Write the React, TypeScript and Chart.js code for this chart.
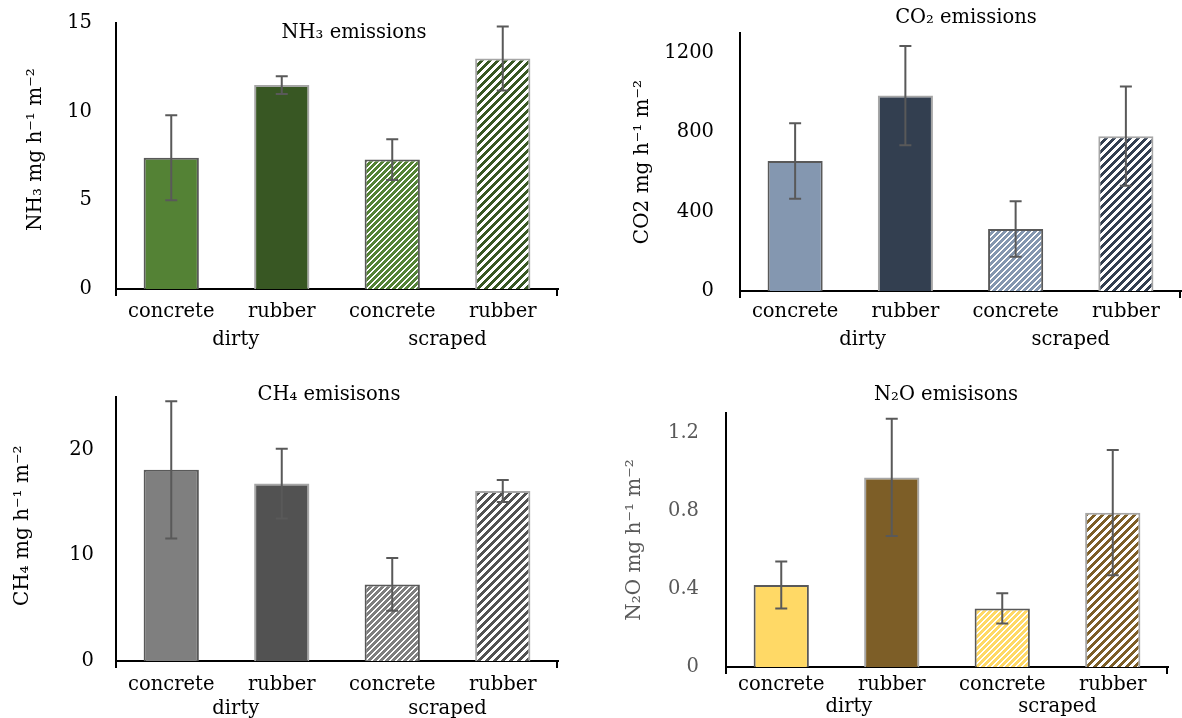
import React, { useEffect, useRef } from 'react';
import { Chart, registerables } from 'chart.js';

Chart.register(...registerables);

// ---------- data ----------
const categories = ['concrete', 'rubber', 'concrete', 'rubber'];
const groups = ['dirty', 'scraped'];

const nh3Values = [7.4, 11.5, 7.3, 13.0];
const nh3Errors = [2.4, 0.5, 1.15, 1.8];
const nh3Ticks = [0, 5, 10, 15];

const co2Values = [655, 985, 312, 780];
const co2Errors = [190, 250, 140, 250];
const co2Ticks = [0, 400, 800, 1200];

const ch4Values = [18.1, 16.8, 7.25, 16.1];
const ch4Errors = [6.5, 3.3, 2.5, 1.05];
const ch4Ticks = [0, 10, 20];

const n2oValues = [0.42, 0.97, 0.3, 0.79];
const n2oErrors = [0.12, 0.3, 0.078, 0.32];
const n2oTicks = [0, 0.4, 0.8, 1.2];

// ---------- styling / layout ----------
const FONT = "'DejaVu Serif', serif";
const NBSP = '\u00A0';

type Spec = {
  title: string;
  yTitle: string;
  values: number[];
  errors: number[];
  ticks: number[];
  max: number;
  colors: [string, string];
  tickColor: string;
  yTitleColor: string;
  box: { x: number; y: number; w: number; h: number };
  plot: { l: number; t: number; r: number; b: number };
  titlePos: { x: number; y: number };
  yTitlePad: number;
  yTitleLead: number;
  tickPad: number;
  xH: number;
  xPad: number;
  x2H: number;
  x2Pad: number;
  groupLead: number;
};

const specs: Spec[] = [
  {
    title: 'NH\u2083 emissions',
    yTitle: 'NH\u2083 mg h\u207B\u00B9 m\u207B\u00B2',
    values: nh3Values,
    errors: nh3Errors,
    ticks: nh3Ticks,
    max: 15,
    colors: ['#548235', '#385723'],
    tickColor: '#000',
    yTitleColor: '#000',
    box: { x: 0, y: 0, w: 590, h: 360 },
    plot: { l: 116, t: 23, r: 558, b: 289 },
    titlePos: { x: 354, y: 33 },
    yTitlePad: 24,
    yTitleLead: 2,
    tickPad: 24,
    xH: 33,
    xPad: 11,
    x2H: 30,
    x2Pad: 6,
    groupLead: 3,
  },
  {
    title: 'CO\u2082 emissions',
    yTitle: 'CO2 mg h\u207B\u00B9 m\u207B\u00B2',
    values: co2Values,
    errors: co2Errors,
    ticks: co2Ticks,
    max: 1300,
    colors: ['#8497B0', '#333F50'],
    tickColor: '#000',
    yTitleColor: '#000',
    box: { x: 590, y: 0, w: 592, h: 360 },
    plot: { l: 740, t: 33, r: 1181, b: 291 },
    titlePos: { x: 376, y: 18 },
    yTitlePad: 41,
    yTitleLead: 0,
    tickPad: 26,
    xH: 31,
    xPad: 9,
    x2H: 30,
    x2Pad: 6,
    groupLead: 4,
  },
  {
    title: 'CH\u2084 emisisons',
    yTitle: 'CH\u2084 mg h\u207B\u00B9 m\u207B\u00B2',
    values: ch4Values,
    errors: ch4Errors,
    ticks: ch4Ticks,
    max: 25,
    colors: ['#7F7F7F', '#525252'],
    tickColor: '#000',
    yTitleColor: '#000',
    box: { x: 0, y: 365, w: 590, h: 353 },
    plot: { l: 116, t: 397, r: 558, b: 661 },
    titlePos: { x: 329, y: 30 },
    yTitlePad: 11,
    yTitleLead: 1,
    tickPad: 22,
    xH: 30,
    xPad: 12,
    x2H: 27,
    x2Pad: 6,
    groupLead: 3,
  },
  {
    title: 'N\u2082O emisisons',
    yTitle: 'N\u2082O mg h\u207B\u00B9 m\u207B\u00B2',
    values: n2oValues,
    errors: n2oErrors,
    ticks: n2oTicks,
    max: 1.3,
    colors: ['#FFD966', '#7D5E27'],
    tickColor: '#595959',
    yTitleColor: '#595959',
    box: { x: 590, y: 365, w: 592, h: 353 },
    plot: { l: 726, t: 413, r: 1168, b: 667 },
    titlePos: { x: 356, y: 30 },
    yTitlePad: 33,
    yTitleLead: 0,
    tickPad: 27,
    xH: 24,
    xPad: 6,
    x2H: 27,
    x2Pad: 4,
    groupLead: 4,
  },
];

function makePattern(color: string, period: number, whiteBand: number): CanvasPattern | string {
  const c = document.createElement('canvas');
  c.width = period;
  c.height = period;
  const ctx = c.getContext('2d');
  if (!ctx) return color;
  ctx.fillStyle = '#ffffff';
  ctx.fillRect(0, 0, period, period);
  ctx.fillStyle = color;
  for (let y = 0; y < period; y++) {
    for (let x = 0; x < period; x++) {
      if ((x + y) % period >= whiteBand) ctx.fillRect(x, y, 1, 1);
    }
  }
  return ctx.createPattern(c, 'repeat') || color;
}

function buildConfig(spec: Spec): any {
  const { box, plot } = spec;
  const padTop = plot.t - box.y;
  const padRight = box.x + box.w - plot.r;
  const padBottom = box.y + box.h - plot.b - spec.xH - spec.x2H;

  const errorBars = {
    id: 'errorBars',
    afterDatasetsDraw(chart: any) {
      const ctx = chart.ctx;
      const meta = chart.getDatasetMeta(0);
      const ys = chart.scales.y;
      ctx.save();
      ctx.strokeStyle = '#595959';
      ctx.lineWidth = 2;
      spec.values.forEach((v, i) => {
        const bar = meta.data[i];
        if (!bar) return;
        const x = bar.x;
        const yTop = ys.getPixelForValue(v + spec.errors[i]);
        const yBot = ys.getPixelForValue(v - spec.errors[i]);
        ctx.beginPath();
        ctx.moveTo(x, yTop);
        ctx.lineTo(x, yBot);
        ctx.moveTo(x - 6, yTop);
        ctx.lineTo(x + 6, yTop);
        ctx.moveTo(x - 6, yBot);
        ctx.lineTo(x + 6, yBot);
        ctx.stroke();
      });
      ctx.restore();
    },
  };

  const decorations = {
    id: 'decorations',
    afterDraw(chart: any) {
      const ctx = chart.ctx;
      const a = chart.chartArea;
      ctx.save();
      ctx.strokeStyle = '#000';
      ctx.lineWidth = 2;
      ctx.beginPath();
      ctx.moveTo(a.left, a.bottom);
      ctx.lineTo(a.left, a.bottom + 7);
      ctx.moveTo(a.right - 1, a.bottom);
      ctx.lineTo(a.right - 1, a.bottom + 7);
      ctx.stroke();
      ctx.fillStyle = '#000';
      ctx.font = `19.5px ${FONT}`;
      ctx.textAlign = 'center';
      ctx.textBaseline = 'middle';
      ctx.fillText(spec.title, spec.titlePos.x, spec.titlePos.y);
      ctx.restore();
    },
  };

  const tickFont = { family: FONT, size: 19.5 };

  return {
    type: 'bar',
    data: {
      labels: categories,
      datasets: [
        {
          data: spec.values,
          backgroundColor: [
            spec.colors[0],
            spec.colors[1],
            makePattern(spec.colors[0], 6, 2),
            makePattern(spec.colors[1], 8, 4),
          ],
          borderColor: ['#595959', '#A6A6A6', '#595959', '#A6A6A6'],
          borderWidth: 2,
          barPercentage: 0.5,
          categoryPercentage: 1,
        },
      ],
    },
    options: {
      responsive: false,
      animation: false,
      devicePixelRatio: 1,
      layout: { padding: { left: 0, top: padTop, right: padRight, bottom: padBottom } },
      plugins: {
        legend: { display: false },
        tooltip: { enabled: false },
        title: { display: false },
      },
      scales: {
        x: {
          type: 'category',
          position: 'bottom',
          offset: true,
          grid: { display: false, drawTicks: false },
          border: { display: true, color: '#000', width: 2 },
          ticks: {
            font: tickFont,
            color: '#000',
            padding: spec.xPad,
            autoSkip: false,
            maxRotation: 0,
          },
          afterFit: (s: any) => {
            s.height = spec.xH;
            s.paddingLeft = 0;
            s.paddingRight = 0;
          },
        },
        x2: {
          type: 'category',
          labels: groups,
          position: 'bottom',
          offset: true,
          grid: { display: false, drawTicks: false },
          border: { display: false },
          ticks: {
            font: tickFont,
            color: '#000',
            padding: spec.x2Pad,
            autoSkip: false,
            maxRotation: 0,
            callback: (_v: any, i: number) =>
              i === 0 ? NBSP.repeat(spec.groupLead) + groups[i] : groups[i],
          },
          afterFit: (s: any) => {
            s.height = spec.x2H;
            s.paddingLeft = 0;
            s.paddingRight = 0;
          },
        },
        y: {
          min: 0,
          max: spec.max,
          afterBuildTicks: (s: any) => {
            s.ticks = spec.ticks.map((v) => ({ value: v }));
          },
          grid: { display: false, drawTicks: false },
          border: { display: true, color: '#000', width: 2 },
          ticks: {
            font: tickFont,
            color: spec.tickColor,
            padding: spec.tickPad,
            callback: (v: any) => String(v),
          },
          title: {
            display: true,
            text: NBSP.repeat(spec.yTitleLead) + spec.yTitle,
            color: spec.yTitleColor,
            font: { family: FONT, size: 20 },
            padding: { top: spec.yTitlePad, bottom: 0 },
          },
          afterFit: (s: any) => {
            s.width = plot.l - box.x;
            s.paddingTop = 0;
            s.paddingBottom = 0;
          },
        },
      },
    },
    plugins: [errorBars, decorations],
  };
}

function ChartPanel({ spec }: { spec: Spec }) {
  const ref = useRef<HTMLCanvasElement | null>(null);
  useEffect(() => {
    if (!ref.current) return;
    const chart = new Chart(ref.current, buildConfig(spec));
    return () => chart.destroy();
  }, [spec]);
  return (
    <canvas
      ref={ref}
      width={spec.box.w}
      height={spec.box.h}
      style={{
        position: 'absolute',
        left: spec.box.x,
        top: spec.box.y,
        width: spec.box.w,
        height: spec.box.h,
      }}
    />
  );
}

export default function App() {
  return (
    <div
      style={{
        position: 'fixed',
        left: 0,
        top: 0,
        width: 1182,
        height: 718,
        background: '#fff',
        overflow: 'hidden',
      }}
    >
      {specs.map((s, i) => (
        <ChartPanel key={i} spec={s} />
      ))}
    </div>
  );
}
